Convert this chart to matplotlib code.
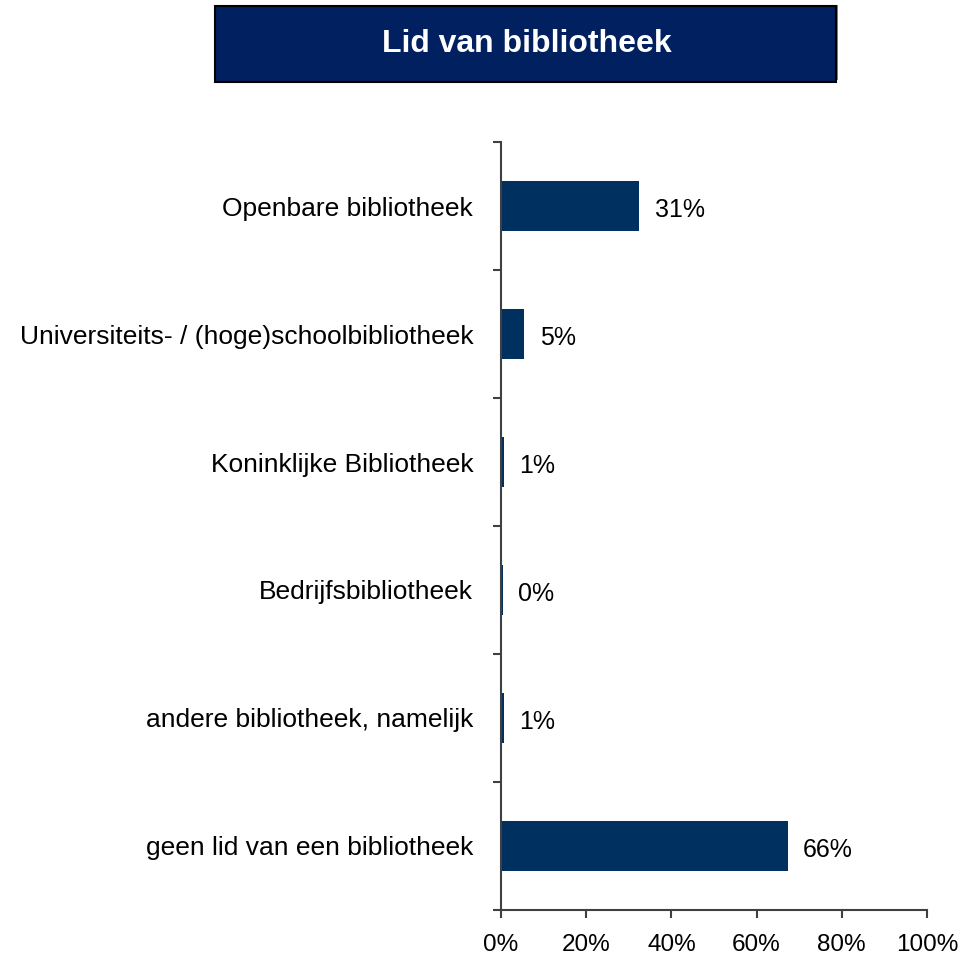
import matplotlib
matplotlib.use("Agg")
import matplotlib.pyplot as plt
from matplotlib.patches import Rectangle
import numpy as np

plt.rcParams['font.family'] = ['Liberation Sans', 'DejaVu Sans']

categories = [
    "Openbare bibliotheek",
    "Universiteits- / (hoge)schoolbibliotheek",
    "Koninklijke Bibliotheek",
    "Bedrijfsbibliotheek",
    "andere bibliotheek, namelijk",
    "geen lid van een bibliotheek",
]
values = [32.5, 5.5, 0.7, 0.5, 0.7, 67.3]
value_labels = ["31%", "5%", "1%", "0%", "1%", "66%"]
xticks = [0, 20, 40, 60, 80, 100]
xtick_labels = ["0%", "20%", "40%", "60%", "80%", "100%"]
title = "Lid van bibliotheek"

bar_color = "#003060"
title_color = "#002060"
spine_color = "#404040"

fig = plt.figure(figsize=(9.77, 9.61), dpi=100)
ax = fig.add_axes([0.5128, 0.0531, 0.4360, 0.7991])

n = len(categories)
y = np.arange(n)
ax.barh(y, values, height=0.39, color=bar_color, edgecolor="none")
ax.set_ylim(n - 0.5, -0.5)
ax.set_xlim(0, 100)

for yi, v, lab in zip(y, values, value_labels):
    ax.text(v + 3.6, yi + 0.03, lab, va="center", ha="left", fontsize=18, color="black")

ax.set_xticks(xticks)
ax.set_xticklabels(xtick_labels, fontsize=17.5)
ax.set_yticks(y)
ax.set_yticklabels(categories, fontsize=19)
ax.tick_params(axis="y", which="major", length=0, pad=20)
ax.set_yticks(np.arange(n + 1) - 0.5, minor=True)
ax.tick_params(axis="y", which="minor", length=6, width=1.5, color=spine_color, direction="out")
ax.tick_params(axis="x", which="major", length=6, width=1.5, color=spine_color, direction="out", pad=11)

for s in ["top", "right"]:
    ax.spines[s].set_visible(False)
for s in ["left", "bottom"]:
    ax.spines[s].set_color(spine_color)
    ax.spines[s].set_linewidth(1.5)

# Title box
fig.patches.append(Rectangle((0.222, 0.9167), 0.636, 0.0781, transform=fig.transFigure,
                             facecolor="#808080", edgecolor="none", zorder=0))
fig.patches.append(Rectangle((0.220, 0.9147), 0.636, 0.0791, transform=fig.transFigure,
                             facecolor=title_color, edgecolor="black", linewidth=1.5, zorder=1))
fig.text(0.5395, 0.9537, title, ha="center", va="center", color="white",
         fontsize=23, fontweight="bold", zorder=2)

fig.savefig("out.png", dpi=100)
